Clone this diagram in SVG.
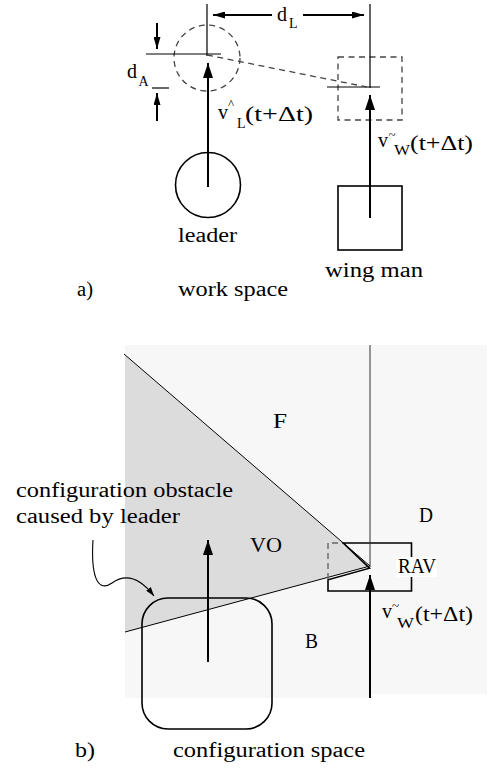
<svg xmlns="http://www.w3.org/2000/svg" width="493" height="769" viewBox="0 0 493 769">
<style>
  text { font-family: "Liberation Serif", "DejaVu Serif", serif; font-size: 20px; fill: #000; }
  .sub { font-size: 14px; }
  .acc { font-size: 13px; }
  .thin { stroke: #000; stroke-width: 1.2; fill: none; }
  .thick { stroke: #000; stroke-width: 2; fill: none; }
  .dash { stroke: #444; stroke-width: 1.3; fill: none; stroke-dasharray: 6 4.5; }
  .shape { stroke: #000; stroke-width: 1.6; fill: none; }
</style>
<defs>
  <marker id="big" viewBox="0 0 15 10" refX="15" refY="5" markerWidth="15" markerHeight="10" markerUnits="userSpaceOnUse" orient="auto">
    <path d="M0,0 L15,5 L0,10 z" fill="#000"/>
  </marker>
  <marker id="small" viewBox="0 0 12 7" refX="12" refY="3.5" markerWidth="12" markerHeight="7" markerUnits="userSpaceOnUse" orient="auto">
    <path d="M0,0 L12,3.5 L0,7 z" fill="#000"/>
  </marker>
  <marker id="tiny" viewBox="0 0 9 6" refX="9" refY="3" markerWidth="9" markerHeight="6" markerUnits="userSpaceOnUse" orient="auto">
    <path d="M0,0 L9,3 L0,6 z" fill="#000"/>
  </marker>
</defs>

<!-- ===== a) work space ===== -->
<g id="leader-predicted">
  <circle cx="207" cy="58" r="33" class="dash"/>
</g>
<g id="wingman-predicted">
  <rect x="338" y="57" width="64" height="63" class="dash"/>
</g>
<g id="leader">
  <circle cx="208" cy="185" r="32.5" class="shape"/>
  <text x="178" y="242" textLength="59" lengthAdjust="spacingAndGlyphs">leader</text>
</g>
<g id="wingman">
  <rect x="338" y="186" width="64" height="64" class="shape"/>
  <text x="325" y="277" textLength="98" lengthAdjust="spacingAndGlyphs">wing man</text>
</g>
<g id="labels-a">
  <text x="127" y="78">d</text>
  <text x="138.5" y="86" class="sub">A</text>
  <text x="277" y="21">d</text>
  <text x="289" y="28" class="sub">L</text>
  <text x="218" y="119">v</text>
  <text x="228" y="108" class="acc">^</text>
  <text x="237" y="128" class="sub">L</text>
  <text x="245" y="121" textLength="68" lengthAdjust="spacingAndGlyphs">(t+Δt)</text>
  <text x="378" y="147">v</text>
  <text x="388.5" y="139" class="acc">~</text>
  <text x="394" y="155" class="sub" textLength="16" lengthAdjust="spacingAndGlyphs">W</text>
  <text x="410" y="150" textLength="63" lengthAdjust="spacingAndGlyphs">(t+Δt)</text>
  <text x="77" y="296" textLength="16" lengthAdjust="spacingAndGlyphs">a)</text>
  <text x="178" y="296" textLength="110" lengthAdjust="spacingAndGlyphs">work space</text>
</g>

<g id="connectors-a">
  <line x1="207" y1="4" x2="207" y2="56" class="thin"/>
  <line x1="370" y1="4" x2="370" y2="88" class="thin"/>
  <line x1="146" y1="54" x2="221" y2="54" class="thin"/>
  <line x1="152" y1="88" x2="169" y2="88" class="thin"/>
  <line x1="327" y1="87" x2="380" y2="87" class="thin"/>
  <line x1="207" y1="55" x2="367" y2="87" class="dash"/>
  <line x1="208" y1="187" x2="208" y2="63" class="thick" marker-end="url(#big)"/>
  <line x1="370" y1="218" x2="370" y2="95" class="thick" marker-end="url(#big)"/>
  <line x1="272" y1="15" x2="213" y2="15" class="thick" marker-end="url(#small)"/>
  <line x1="303" y1="15" x2="364" y2="15" class="thick" marker-end="url(#small)"/>
  <line x1="157" y1="23" x2="157" y2="49" class="thick" marker-end="url(#small)"/>
  <line x1="157" y1="121" x2="157" y2="93" class="thick" marker-end="url(#small)"/>
</g>

<!-- ===== b) configuration space ===== -->
<g id="config-space">
  <path d="M125,345 H487 V694 H370 V698 H125 Z" fill="#f7f7f7"/>
</g>
<g id="VO">
  <polygon points="125,355 370,566 125,632" fill="#dcdcdc"/>
  <line x1="124" y1="354" x2="370" y2="566" stroke="#000" stroke-width="1"/>
  <line x1="125" y1="632" x2="370" y2="566" stroke="#000" stroke-width="1"/>
</g>
<g id="RAV">
  <path d="M328,579 V543 H343" stroke="#666" stroke-width="1.4" fill="none" stroke-dasharray="6 4"/>
  <path d="M343.3,543 H411.5 V591 H328 V579.8 L369.5,568.2 Z" class="shape"/>
  <rect x="396" y="557" width="41" height="20" fill="#fff"/>
  <text x="398" y="573" textLength="38" lengthAdjust="spacingAndGlyphs" font-size="18">RAV</text>
</g>
<g id="leader-obstacle">
  <rect x="142" y="598" width="130" height="131" rx="26" ry="26" class="shape"/>
</g>
<g id="labels-b">
  <text x="273" y="428" textLength="14" lengthAdjust="spacingAndGlyphs">F</text>
  <text x="250" y="552" textLength="32" lengthAdjust="spacingAndGlyphs">VO</text>
  <text x="419" y="522" textLength="14" lengthAdjust="spacingAndGlyphs">D</text>
  <text x="305" y="648" textLength="13" lengthAdjust="spacingAndGlyphs">B</text>
  <text x="16" y="497" textLength="217" lengthAdjust="spacingAndGlyphs">configuration obstacle</text>
  <text x="16" y="523" textLength="164" lengthAdjust="spacingAndGlyphs">caused by leader</text>
  <text x="382" y="618">v</text>
  <text x="392" y="610" class="acc">~</text>
  <text x="397" y="628" class="sub" textLength="17" lengthAdjust="spacingAndGlyphs">W</text>
  <text x="415" y="621" textLength="58" lengthAdjust="spacingAndGlyphs">(t+Δt)</text>
  <text x="75" y="757" textLength="20" lengthAdjust="spacingAndGlyphs">b)</text>
  <text x="173" y="757" textLength="192" lengthAdjust="spacingAndGlyphs">configuration space</text>
</g>

<g id="connectors-b">
  <line x1="370" y1="345" x2="370" y2="567" stroke="#333" stroke-width="1"/>
  <line x1="370" y1="698" x2="370" y2="575" class="thick" marker-end="url(#big)"/>
  <line x1="208" y1="662" x2="208" y2="540" class="thick" marker-end="url(#big)"/>
  <path d="M93,540 C91,572 96,594 112,583 C126,573 140,578 154,596" stroke="#000" stroke-width="1.1" fill="none" marker-end="url(#tiny)"/>
</g>
</svg>
